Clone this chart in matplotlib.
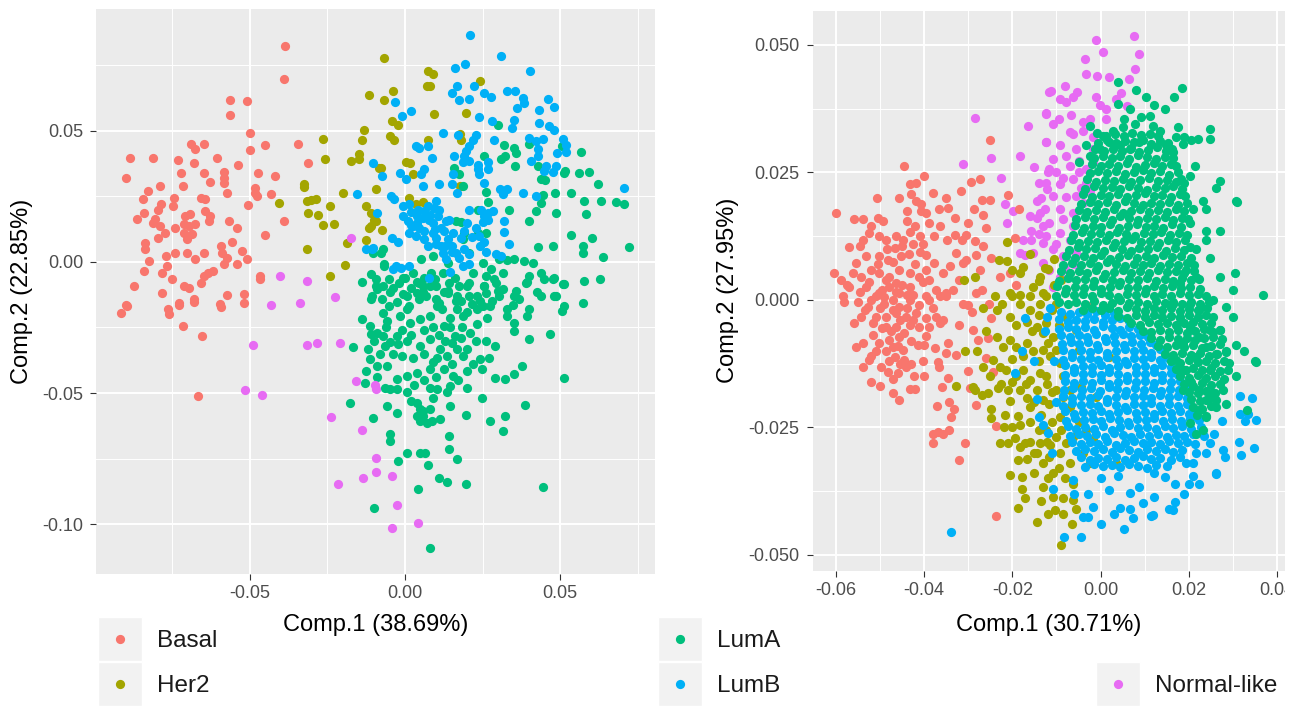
import numpy as np
import matplotlib
matplotlib.use("Agg")
import matplotlib.pyplot as plt
from matplotlib.patches import Rectangle

plt.rcParams['font.family'] = ['Liberation Sans', 'DejaVu Sans']

# PCA scores, stored in units of 1e-4
UNIT = 1e-4

group_names = ["Basal", "Her2", "LumA", "LumB", "Normal-like"]
group_colors = ["#F8766D", "#A3A500", "#00BF7D", "#00B0F6", "#E76BF3"]

left_xlabel = "Comp.1 (38.69%)"
left_ylabel = "Comp.2 (22.85%)"
right_xlabel = "Comp.1 (30.71%)"
right_ylabel = "Comp.2 (27.95%)"

left_xticks = [-0.05, 0.0, 0.05]
left_xticklabels = ["-0.05", "0.00", "0.05"]
left_yticks = [-0.10, -0.05, 0.0, 0.05]
left_yticklabels = ["-0.10", "-0.05", "0.00", "0.05"]
right_xticks = [-0.06, -0.04, -0.02, 0.0, 0.02, 0.04]
right_xticklabels = ["-0.06", "-0.04", "-0.02", "0.00", "0.02", "0.04"]
right_yticks = [-0.05, -0.025, 0.0, 0.025, 0.05]
right_yticklabels = ["-0.050", "-0.025", "0.000", "0.025", "0.050"]

# ---------------- left panel ----------------
basal_l = [(-385,824),(-390,700),(-565,618),(-510,613),(-565,562),(-500,494),(-500,426),(-450,445),(-344,450),
    (-690,450),(-675,430),(-646,450),(-885,396),(-810,396),(-898,320),(-730,390),(-680,377),(-605,396),(-538,370),
    (-720,338),(-648,338),(-584,343),(-584,320),(-584,300),(-627,305),(-474,338),(-420,328),(-312,377),(-790,290),
    (-716,290),(-573,265),(-828,270),(-844,240),(-745,243),(-656,243),(-643,240),(-484,284),(-482,265),(-478,250),
    (-430,258),(-506,216),(-785,220),(-794,200),(-748,214),(-842,188),(-863,163),(-804,163),(-788,137),(-772,112),
    (-794,93),(-810,150),(-740,130),(-708,176),(-691,182),(-712,144),(-697,137),(-675,144),(-712,112),(-685,106),
    (-702,87),(-643,195),(-627,176),(-632,156),(-568,156),(-540,131),(-390,158),(-450,102),(-836,71),(-836,48),
    (-740,36),(-770,23),(-702,36),(-675,10),(-648,36),(-594,61),(-588,36),(-573,17),(-557,76),(-525,42),(-509,10),
    (-541,-9),(-584,-9),(-823,4),(-842,-34),(-783,-41),(-751,-66),(-767,-15),(-646,-53),(-635,-41),(-657,-79),
    (-619,-34),(-468,-53),(-466,-66),(-874,-92),(-783,-117),(-713,-92),(-696,-98),(-680,-142),(-573,-127),
    (-517,-123),(-520,-158),(-899,-165),(-729,-158),(-595,-162),(-914,-195),(-896,-168),(-760,-200),(-763,-180),
    (-714,-245),(-653,-282),(-665,-512),(-728,-164),(-680,-154),(-593,-170)]

her2_l = [(-116,637),(-68,780),(-68,620),(-132,503),(-140,464),(-263,470),(-259,394),(-148,413),(-148,394),
    (-175,385),(-78,357),(-326,299),(-326,286),(-95,277),(-201,265),(-317,233),(-304,237),(-288,239),(-242,214),
    (-406,226),(-312,186),(-280,178),(-263,140),(-229,146),(-127,214),(-111,186),(-100,160),(-116,131),(-74,122),
    (-127,84),(-186,71),(-317,48),(-194,-11),(-242,-53),(73,730),(91,718),(70,670),(82,670),(-38,651),(241,689),
    (92,566),(198,569),(-42,537),(-24,524),(-47,480),(-34,464),(73,464),(177,489),(180,467),(3,381),(16,378),
    (-83,357),(25,334),(177,289),(14,245),(35,222),(57,228),(-95,156),(-109,137)]

luma_l = [(567,419),(561,338),(593,343),(620,296),(534,264),(577,232),(583,185),(631,232),(679,228),(706,220),
    (720,57),(534,102),(602,93),(572,61),(572,33),(636,20),(629,-66),(577,-72),(572,-155),(508,-85),(481,-60),
    (476,61),(427,58),(400,156),(422,194),(438,226),(445,254),(483,264),(486,188),(357,416),(352,435),(320,448),
    (323,404),(309,393),(355,365),(255,406),(298,524),(400,452),(427,365),(438,315),(452,312),(505,444),(516,346),
    (511,338),(261,266),(266,228),(175,334),(159,359),(186,289),(234,200),(180,152),(191,112),(234,112),(261,112),
    (336,200),(384,4),(411,-3),(438,-41),(400,-53),(304,10),(330,8),(352,10),(277,-28),(314,-41),(261,-53),
    (255,-91),(293,-79),(304,-129),(357,-110),(389,-79),(368,-142),(438,-129),(481,-129),(513,-168),(207,-129),
    (164,-148),(175,-91),(137,-117),(57,-91),(46,-142),(-8,-123),(-50,-66),(-72,-91),(-93,-66),(-109,-142),
    (-67,-9),(-8,-63),(25,-41),(46,-79),(84,-41),(121,-41),(143,-79),(100,-91),(207,-79),(218,-41),(250,-3),
    (207,36),(89,23),(164,156),(186,86),(137,-3),(52,10),(250,-168),(347,-165),(400,-178),(14,-168),(-50,-168),
    (111,-155),(68,-129),(-72,48),(-104,36),
    (-140,-78),(-91,-104),(-75,-142),(-48,-116),(-70,-193),(-27,-154),(5,-129),(38,-78),(59,-116),(97,-65),
    (124,-116),(167,-129),(199,-91),(231,-129),(253,-91),(285,-65),(317,-104),(350,-129),(392,-78),(425,-116),
    (446,-65),(478,-65),(511,-84),(487,-129),(505,-186),(392,-205),(328,-180),(274,-167),(231,-180),(167,-180),
    (102,-167),(5,-180),(-140,-218),(-113,-244),(-108,-275),(-59,-225),(-16,-205),(16,-231),(48,-218),(81,-205),
    (145,-212),(188,-205),(145,-250),(124,-244),(161,-282),(183,-250),(231,-237),(263,-212),(328,-205),(350,-231),
    (350,-263),(-167,-326),(-118,-333),(-113,-371),(-91,-396),(-124,-416),(-70,-282),(-65,-320),(-48,-307),
    (-27,-282),(-22,-314),(5,-301),(27,-365),(48,-320),(81,-295),(113,-333),(102,-365),(134,-358),(167,-333),
    (199,-333),(188,-358),(242,-371),(269,-365),(247,-409),(199,-416),(156,-435),(124,-409),(81,-409),(38,-422),
    (5,-435),(-27,-447),(-59,-396),(-27,-486),(5,-498),(-65,-479),(-48,-486),(81,-479),(102,-486),(145,-473),
    (134,-498),(247,-518),(290,-441),(323,-447),(350,-428),(376,-396),(398,-295),(468,-275),(511,-441),(387,-547),
    (323,-588),(317,-645),(274,-607),(197,-584),(145,-549),(113,-600),(38,-537),(48,-562),(59,-588),(70,-613),
    (38,-588),(48,-607),(86,-607),(59,-570),(81,-562),(-27,-575),(-59,-549),(-177,-539),(-102,-594),(-48,-658),
    (-48,-683),(143,-664),(143,-715),(167,-753),(5,-728),(48,-728),(65,-730),(75,-776),(-22,-760),(108,-823),
    (134,-840),(197,-846),(43,-865),(-100,-940),(81,-1091),(444,-859),
    (-110,-47),(-95,-92),(-106,-130),(-77,36),(-69,-15),
    (-40,-100),(-20,-80),(0,-60),(20,-100),(40,-120),(60,-60),(80,-90),(100,-140),(120,-180),(140,-110),
    (160,-60),(180,-150),(200,-190),(215,-160),(240,-150),(260,-120),(280,-150),(300,-110),(-10,-260),(20,-280),
    (60,-260),(90,-250),(110,-280),(130,-300),(150,-310),(180,-290),(210,-270),(230,-300),(260,-300),(290,-320),
    (-60,-250),(-90,-270),(-100,-300),(-80,-350),(-40,-350),(-10,-360),(60,-350),(90,-380),(150,-390),(220,-390),
    (60,-450),(30,-470),(100,-440),(170,-450),(-90,-440),(-130,-460),(20,-530),(90,-520),(200,-480)]

lumb_l = [(210,867),(309,787),(403,730),(162,742),(194,755),(167,673),(223,673),(151,645),(173,619),(205,623),
    (255,645),(277,629),(330,651),(355,651),(379,626),(384,607),(361,588),(462,623),(479,591),(432,581),(19,575),
    (-11,556),(-31,609),(239,552),(280,537),(350,543),(431,530),(463,520),(479,503),(344,511),(121,492),(170,486),
    (229,486),(218,467),(288,464),(400,473),(422,461),(443,470),(508,470),(518,448),(518,419),(491,416),(35,442),
    (73,442),(46,435),(207,444),(197,423),(191,404),(159,404),(87,397),(186,381),(207,385),(234,372),(266,381),
    (266,353),(234,353),(239,334),(255,302),(406,385),(427,404),(454,365),(487,365),(475,343),(448,346),(427,431),
    (-104,378),(-74,330),(-16,338),(3,317),(52,334),(62,353),(57,289),(108,296),(151,296),(153,334),(169,264),
    (306,277),(314,258),(330,277),(379,264),(422,251),(706,283),(-45,251),(-34,239),(-8,213),(14,220),(41,200),
    (73,213),(100,232),(94,207),(57,169),(76,162),(89,150),(105,175),(116,131),(132,156),(143,162),(-91,188),
    (-8,175),(9,156),(25,137),(46,131),(14,112),(35,99),(62,86),(89,112),(100,93),(116,61),(121,36),(137,86),
    (151,61),(165,36),(132,10),(153,112),(207,200),(245,200),(255,175),(266,188),(282,194),(250,152),(266,159),
    (320,156),(320,114),(336,67),(293,29),(309,23),(255,76),(-42,93),(-24,76),(-102,55),(-29,-15),(-13,-22),
    (14,-15),(78,-63),(186,-15),(207,-9),(239,99),(191,48),(175,16),(-154,258),(-127,48),(-105,51),(-38,-27),
    (145,-40),(20,190),(40,175),(60,195),(80,180),(110,200),(125,120),(95,125),(60,120),(40,150),(20,140),
    (100,70),(130,60),(75,60),(190,120),(215,95),(230,130),(200,150),(240,60),(180,90),(150,40),(205,30),(260,40)]

normal_l = [(-175,93),(-401,-53),(-317,-73),(-433,-165),(-337,-155),(-224,-132),(-489,-318),(-315,-318),
    (-283,-310),(-210,-310),(-516,-487),(-462,-509),(-158,-454),(-97,-470),(-94,-486),(-237,-591),(-140,-642),
    (-94,-747),(-134,-823),(-94,-802),(-41,-817),(-215,-846),(-25,-929),(-41,-1014),(43,-998)]

# ---------------- right panel ----------------
basal_r = [(-251,313),(-446,262),(-401,243),(-418,230),(-433,227),(-431,207),(-456,199),(-418,194),(-407,188),
    (-439,174),(-408,174),(-506,199),(-600,170),(-558,158),(-539,159),(-505,161),(-494,155),(-521,146),(-525,132),
    (-539,118),(-545,105),(-570,104),(-502,125),(-486,118),(-463,125),(-447,118),(-433,133),(-421,145),(-409,125),
    (-440,155),(-403,109),(-396,89),(-467,102),(-452,86),(-482,79),(-502,86),(-532,86),(-555,72),(-604,53),
    (-589,39),(-562,53),(-543,46),(-520,59),(-502,53),(-479,46),(-456,59),(-433,53),(-411,46),(-396,59),(-377,72),
    (-365,145),(-377,125),(-349,118),(-367,178),(-346,181),(-329,128),(-314,118),(-305,128),(-327,92),(-305,79),
    (-282,89),(-267,105),(-259,141),(-267,166),(-251,197),(-270,196),(-287,179),(-316,214),(-293,232),(-274,237),
    (-210,206),(-185,179),(-194,122),(-248,82),(-229,46),(-206,53),(-191,30),(-357,53),(-342,66),(-312,72),
    (-274,59),(-486,39),(-464,33),(-433,26),(-403,36),(-373,20),(-570,26),(-532,26),(-502,13),(-456,13),(-426,10),
    (-396,7),(-585,7),(-350,13),(-282,13),
    (-581,-3),(-551,-3),(-543,-33),(-528,-13),(-509,7),(-490,-7),(-471,0),(-456,-13),(-433,0),(-411,-10),(-388,0),
    (-365,7),(-350,7),(-509,-33),(-486,-33),(-464,-26),(-441,-33),(-418,-26),(-396,-36),(-373,-33),(-358,-39),
    (-486,-52),(-464,-52),(-433,-49),(-411,-52),(-388,-52),(-365,-46),(-555,-92),(-539,-85),(-517,-69),(-502,-85),
    (-479,-78),(-456,-72),(-471,-92),(-449,-98),(-486,-101),(-509,-101),(-467,-111),(-445,-118),(-524,-118),
    (-539,-132),(-498,-131),(-482,-141),(-460,-144),(-441,-132),(-422,-150),(-520,-160),(-501,-168),(-471,-183),
    (-456,-196),(-433,-175),(-414,-88),(-400,-88),(-403,-119),(-369,-121),(-367,-131),(-346,-85),(-350,-103),
    (-346,-152),(-327,-108),(-312,-7),(-292,-23),(-290,-59),(-278,-78),(-255,-75),(-259,-114),(-244,-141),
    (-248,-36),(-252,-7),(-297,-173),(-282,-206),(-343,-201),(-332,-213),(-372,-208),(-381,-262),(-358,-262),
    (-369,-258),(-381,-281),(-343,-255),(-307,-281),(-322,-313),(-238,-247),(-238,-424),(-28,-11),
    (-495,20),(-480,25),(-465,15),(-450,30),(-440,10),(-470,-20),(-455,-40),(-440,-15),(-425,-40),(-500,-15),
    (-515,-45),(-495,-55),(-475,-60),(-445,-65),(-430,-80),(-460,-90),(-480,-120),(-455,-125),(-470,-155),
    (-490,5),(-520,0),(-535,-20),(-560,-45),(-575,30),(-545,15),(-525,35),(-505,70),(-485,100),(-470,75),
    (-450,105),(-435,90),(-420,70),(-425,110),(-410,95),(-390,40),(-380,-15),(-395,-70),(-375,-95),(-400,-150),
    (-420,-175),(-520,-110),(-430,-125),(-360,-170),(-340,-230),(-300,-140),(-320,-50),(-335,20),(-320,40),
    (-300,-10),(-270,20),(-285,115),(-300,150),(-330,160),(-350,200),(-380,210),(-390,150),(-395,170)]

her2_r = [(-213,114),(-230,79),(-213,76),(-201,59),(-183,53),(-310,39),(-285,46),(-240,7),(-206,13),(-183,10),
    (-153,26),(-137,46),(-130,13),(-266,-16),(-236,-20),(-224,-7),(-202,7),(-183,-7),(-160,7),(-138,-7),(-206,-33),
    (-191,-49),(-168,-43),(-145,-52),(-130,-65),(-236,-72),(-221,-92),(-206,-78),(-191,-92),(-168,-85),(-153,-101),
    (-130,-98),(-308,-100),(-266,-132),(-244,-118),(-229,-131),(-214,-137),(-191,-150),(-176,-137),(-160,-157),
    (-138,-144),(-122,-164),(-327,-169),(-285,-177),(-270,-186),(-255,-183),(-233,-173),(-225,-164),(-210,-177),
    (-206,-199),(-183,-177),(-168,-193),(-145,-177),(-130,-196),(-248,-213),(-248,-232),(-217,-226),(-187,-228),
    (-183,-245),(-160,-239),(-229,-280),(-210,-281),(-195,-271),(-183,-288),(-172,-281),(-160,-278),(-137,-281),
    (-122,-278),(-187,-314),(-168,-311),(-145,-301),(-130,-320),(-206,-343),(-179,-347),(-179,-370),(-172,-389),
    (-187,-407),(-145,-435),(-130,-366),(-290,-170),
    (-123,-46),(-108,-72),(-100,-98),(-93,-124),(-123,-150),(-100,-177),(-116,-203),(-85,-190),(-70,-177),
    (-93,-229),(-123,-255),(-100,-268),(-78,-281),(-63,-268),(-32,-255),(-17,-275),(-116,-307),(-93,-301),
    (-70,-320),(-108,-340),(-63,-360),(-108,-386),(-85,-389),(-63,-392),(-104,-412),(-55,-409),(-89,-481),
    (-25,-320),(35,-320),(20,-111),(-10,-190),(-48,-98),(-55,-59),(-78,-33),(-123,7),(-100,-7),
    (-110,-20),(-95,-50),(-115,-110),(-140,-120),(-155,-60),(-175,-110),(-200,-115),(-160,-20),(-140,-30),
    (-120,-85),(-85,-150),(-110,-180),(-150,-200),(-135,-225),(-110,-240),(-90,-255),(-140,-255),(-160,-210),
    (-200,-250),(-220,-250),(-150,-300),(-115,-285),(-95,-330),(-80,-350),(-120,-350),(-150,-340),(-85,-420),
    (-120,-420),(-135,-395),(-65,-440),(-40,-300),(-50,-240),(-70,-210),(-60,-140),(-45,-170),(-260,-60),
    (-280,-100),(-250,-150),(-200,-160),(-170,-165),(-105,80),(-90,40),(-120,60),(-140,37),(-127,63),(-105,29),
    (-160,90),(-175,65)]

normal_r = [(-284,357),(-312,266),(-248,278),(-225,239),(-183,283),(-164,342),(-124,365),(-116,408),(-124,309),
    (-119,250),(-121,217),(-145,194),(-216,189),(-199,174),(-160,164),(-137,170),(-213,151),(-157,135),(-130,145),
    (-175,118),(-183,92),(-172,89),(-153,92),(-130,112),(-157,118),(-130,72),
    (-11,510),(75,517),(5,487),(86,482),(-36,472),(79,453),(-34,443),(20,438),(64,434),(-112,409),(-93,395),
    (-78,388),(-63,398),(-53,408),(-10,398),(-2,382),(13,375),(47,405),(-123,367),(-66,363),(-108,345),(-40,349),
    (-25,355),(13,355),(-63,326),(-40,332),(-17,319),(-123,309),(-93,303),(-55,296),(-17,296),(-108,276),(-78,283),
    (-48,273),(-116,257),(-70,263),(-32,257),(-17,270),(-123,230),(-93,227),(-63,237),(-32,230),(-108,204),
    (-78,201),(-55,204),(-25,214),(-127,178),(-93,178),(-63,171),(-40,191),(-116,151),(-85,158),(-63,145),
    (-123,125),(-93,132),(-70,118),(-108,99),(-85,86),(-55,92),(-116,59),(-93,46),(-108,26),
    (-140,230),(-150,260),(-135,200),(-100,110),(-80,60),(-60,70),(-140,130),(-145,160),(-100,250),(-85,240),
    (-50,250),(-45,220),(-70,330),(-95,355),(-80,420),(60,380),(35,395),(-8,440)]

lumb_r = [(315,-188),(315,-224),(334,-224),(353,-235),(258,-262),(313,-278),(319,-304),(277,-294),(281,-307),
    (262,-340),(224,-360),(190,-381),(168,-360),(168,-396),(164,-412),(122,-386),(115,-424),(96,-399),(66,-409),
    (43,-407),(20,-373),(-17,-405),(-29,-425),(-40,-425),(-29,-381),(66,-379),(88,-366),(145,-347),(122,-340),
    (194,-320),(209,-320),(217,-301),(247,-281),(-44,-464),(-82,-464),(-63,-353),(-108,-370),(-340,-455),
    (-172,-36),(-179,-100),(-194,-144),(-144,-195),(-139,-230),(-130,-245),(-122,-33),(-120,-260),(-110,-300),
    (-150,-120),(-60,-380),(0,-350),(40,-345),(210,-345),(240,-300),(-115,-15),(-125,-60),(-105,-120),(-100,-200),
    (52,-450),(119,-421),(73,-427),(155,-410),(201,-361),(261,-341),(348,-290),(327,-237),(344,-192),(275,-237),
    (0,-440),(30,-420),
    (-90,-23),(-70,-28),(-50,-24),(-30,-27),(-10,-22),(10,-29),(30,-25),
    (-95,-38),(-75,-43),(-55,-39),(-35,-42),(-15,-37),(5,-44),(25,-40),(45,-36),(65,-41),
    (-95,-57),(-75,-52),(-55,-56),(-35,-53),(-15,-58),(5,-51),(25,-55),(45,-59),(65,-53),(85,-56),
    (-90,-68),(-70,-73),(-50,-69),(-30,-72),(-10,-67),(10,-74),(30,-70),(50,-66),(70,-71),(90,-69),(108,-73),
    (-88,-87),(-68,-82),(-48,-86),(-28,-83),(-8,-88),(12,-81),(32,-85),(52,-89),(72,-83),(92,-86),(112,-82),(125,-88),
    (-85,-98),(-65,-103),(-45,-99),(-25,-102),(-5,-97),(15,-104),(35,-100),(55,-96),(75,-101),(95,-99),(115,-103),
    (135,-97),
    (-85,-117),(-65,-112),(-45,-116),(-25,-113),(-5,-118),(15,-111),(35,-115),(55,-119),(75,-113),(95,-116),
    (115,-112),(135,-118),(152,-114),
    (-80,-128),(-60,-133),(-40,-129),(-20,-132),(0,-127),(20,-134),(40,-130),(60,-126),(80,-131),(100,-129),
    (120,-133),(140,-127),(160,-131),
    (-80,-147),(-60,-142),(-40,-146),(-20,-143),(0,-148),(20,-141),(40,-145),(60,-149),(80,-143),(100,-146),
    (120,-142),(140,-148),(160,-144),(175,-147),
    (-80,-158),(-60,-163),(-40,-159),(-20,-162),(0,-157),(20,-164),(40,-160),(60,-156),(80,-161),(100,-159),
    (120,-163),(140,-157),(160,-161),(180,-158),
    (-82,-177),(-62,-172),(-42,-176),(-22,-173),(-2,-178),(18,-171),(38,-175),(58,-179),(78,-173),(98,-176),
    (118,-172),(138,-178),(158,-174),(178,-177),(195,-173),
    (-85,-188),(-65,-193),(-45,-189),(-25,-192),(-5,-187),(15,-194),(35,-190),(55,-186),(75,-191),(95,-189),
    (115,-193),(135,-187),(155,-191),(175,-188),(195,-192),
    (-85,-207),(-65,-202),(-45,-206),(-25,-203),(-5,-208),(15,-201),(35,-205),(55,-209),(75,-203),(95,-206),
    (115,-202),(135,-208),(155,-204),(175,-207),(195,-203),(205,-208),
    (-80,-218),(-60,-223),(-40,-219),(-20,-222),(0,-217),(20,-224),(40,-220),(60,-216),(80,-221),(100,-219),
    (120,-223),(140,-217),(160,-221),(180,-218),(200,-223),(215,-219),
    (-78,-237),(-58,-232),(-38,-236),(-18,-233),(2,-238),(22,-231),(42,-235),(62,-239),(82,-233),(102,-236),
    (122,-232),(142,-238),(162,-234),(182,-237),(202,-233),(222,-236),
    (-75,-248),(-55,-253),(-35,-249),(-15,-252),(5,-247),(25,-254),(45,-250),(65,-246),(85,-251),(105,-249),
    (125,-253),(145,-247),(165,-251),(185,-248),(205,-253),(228,-249),
    (-70,-267),(-50,-262),(-30,-266),(-10,-263),(10,-268),(30,-261),(50,-265),(70,-269),(90,-263),(110,-266),
    (130,-262),(150,-268),(170,-264),(190,-267),(210,-263),(235,-266),
    (-65,-278),(-45,-283),(-25,-279),(-5,-282),(15,-277),(35,-284),(55,-280),(75,-276),(95,-281),(115,-279),
    (135,-283),(155,-277),(175,-281),(195,-278),(215,-283),
    (-55,-297),(-35,-292),(-15,-296),(5,-293),(25,-298),(45,-291),(65,-295),(85,-299),(105,-293),(125,-296),
    (145,-292),(165,-298),(185,-294),
    (-45,-308),(-25,-313),(-5,-309),(15,-312),(35,-307),(55,-314),(75,-310),(95,-306),(115,-311),(135,-309),
    (160,-313),(180,-307),
    (-35,-327),(-15,-322),(5,-326),(25,-323),(45,-328),(65,-321),(85,-325),(105,-329),(125,-323),(150,-326)]

luma_r = [(39,428),(81,411),(103,398),(122,382),(146,375),(166,398),(184,415),(39,385),(66,375),(92,359),(111,361),
    (54,355),(-25,342),(5,322),(28,332),(51,339),(77,345),(119,342),(134,332),(175,339),(172,319),(190,319),
    (204,313),(221,316),(247,316),(187,306),(164,290),(149,303),(88,309),(66,296),(43,303),(20,309),(-2,296),
    (-32,303),(-25,283),(-48,270),(213,263),(202,243),(190,230),(270,234),(262,220),(307,194),(232,194),(209,178),
    (239,178),(202,151),(239,135),(270,135),(239,118),(217,99),(247,82),(270,46),(304,53),(300,20),(368,10),
    (217,46),(194,59),(179,33),(247,335),(309,193),
    (300,-33),(285,-13),(255,0),(270,-59),(247,-59),(307,-88),(326,-101),(349,-119),(285,-101),(262,-105),
    (292,-124),(289,-137),(307,-150),(247,-137),(277,-177),(285,-203),(262,-209),(239,-196),(224,-216),(239,-229),
    (202,-242),(217,-262),(232,-255),(255,-183),(224,-177),(205,-160),(187,-177),(194,-137),(217,-111),(239,-92),
    (224,-72),(202,-52),(187,-85),(172,-118),(179,-33),(164,-7),(202,-7),(224,-20),(352,-121),(331,-216),
    (-8,327),(12,322),(32,326),(52,321),(72,328),(92,323),(112,326),(130,321),
    (-5,308),(15,313),(35,307),(55,312),(75,309),(95,314),(115,306),(135,311),(152,308),
    (-12,297),(8,292),(28,296),(48,293),(68,298),(88,291),(108,295),(128,299),(148,292),(162,296),
    (-15,278),(5,283),(25,279),(45,282),(65,277),(85,284),(105,280),(125,276),(145,281),(165,279),
    (-20,267),(0,262),(20,266),(40,263),(60,268),(80,261),(100,265),(120,269),(140,263),(160,266),(172,262),
    (-25,248),(-5,253),(15,249),(35,252),(55,247),(75,251),(95,254),(115,248),(135,252),(155,246),(175,250),
    (-30,237),(-10,232),(10,236),(30,233),(50,238),(70,231),(90,235),(110,239),(130,233),(150,236),(170,232),(182,238),
    (-35,218),(-15,223),(5,219),(25,222),(45,217),(65,224),(85,220),(105,216),(125,221),(145,219),(165,223),(185,217),
    (-40,207),(-20,202),(0,206),(20,203),(40,208),(60,201),(80,205),(100,209),(120,203),(140,206),(160,202),
    (180,208),(192,204),
    (-45,188),(-25,193),(-5,189),(15,192),(35,187),(55,194),(75,190),(95,186),(115,191),(135,189),(155,193),
    (175,187),(195,191),
    (-50,177),(-30,172),(-10,176),(10,173),(30,178),(50,171),(70,175),(90,179),(110,173),(130,176),(150,172),
    (170,178),(190,174),
    (-55,158),(-35,163),(-15,159),(5,162),(25,157),(45,164),(65,160),(85,156),(105,161),(125,159),(145,163),
    (165,157),(185,161),(198,158),
    (-58,147),(-38,142),(-18,146),(2,143),(22,148),(42,141),(62,145),(82,149),(102,143),(122,146),(142,142),
    (162,148),(182,144),
    (-62,128),(-42,133),(-22,129),(-2,132),(18,127),(38,134),(58,130),(78,126),(98,131),(118,129),(138,133),
    (158,127),(178,131),(196,128),
    (-68,117),(-48,112),(-28,116),(-8,113),(12,118),(32,111),(52,115),(72,119),(92,113),(112,116),(132,112),
    (152,118),(172,114),(192,117),
    (-72,98),(-52,103),(-32,99),(-12,102),(8,97),(28,104),(48,100),(68,96),(88,101),(108,99),(128,103),(148,97),
    (168,101),(188,98),(202,103),
    (-78,87),(-58,82),(-38,86),(-18,83),(2,88),(22,81),(42,85),(62,89),(82,83),(102,86),(122,82),(142,88),
    (162,84),(182,87),(204,83),
    (-85,68),(-65,73),(-45,69),(-25,72),(-5,67),(15,74),(35,70),(55,66),(75,71),(95,69),(115,73),(135,67),
    (155,71),(175,68),(195,73),(212,69),
    (-90,57),(-70,52),(-50,56),(-30,53),(-10,58),(10,51),(30,55),(50,59),(70,53),(90,56),(110,52),(130,58),
    (150,54),(170,57),(190,53),(212,56),
    (-95,38),(-75,43),(-55,39),(-35,42),(-15,37),(5,44),(25,40),(45,36),(65,41),(85,39),(105,43),(125,37),
    (145,41),(165,38),(185,43),(205,39),(222,42),
    (-98,27),(-78,22),(-58,26),(-38,23),(-18,28),(2,21),(22,25),(42,29),(62,23),(82,26),(102,22),(122,28),
    (142,24),(162,27),(182,23),(202,26),(225,22),
    (-100,8),(-80,13),(-60,9),(-40,12),(-20,7),(0,14),(20,10),(40,6),(60,11),(80,9),(100,13),(120,7),(140,11),
    (160,8),(180,13),(200,9),(220,12),(238,8),
    (-95,-3),(-75,-8),(-55,-4),(-35,-7),(-15,-2),(5,-9),(25,-5),(45,-1),(65,-6),(85,-4),(105,-8),(125,-2),
    (145,-6),(165,-3),(185,-8),(205,-4),(225,-7),(245,-3),
    (-40,-20),(-20,-15),(0,-19),(20,-16),(40,-21),(60,-14),(80,-18),(100,-22),(120,-16),(140,-19),(160,-15),
    (180,-21),(200,-17),(220,-20),(242,-16),
    (40,-32),(60,-35),(80,-30),(100,-34),(120,-29),(140,-33),(160,-31),(180,-35),(200,-30),(220,-33),(240,-29),
    (255,-34),(70,-46),(90,-49),(110,-44),(130,-48),(150,-45),(170,-50),(190,-46),(210,-43),(230,-48),(250,-45),
    (95,-60),(115,-63),(135,-58),(155,-62),(175,-59),(195,-64),(215,-60),(235,-57),(255,-62),(270,-59),
    (115,-75),(135,-78),(155,-73),(175,-77),(195,-74),(215,-79),(235,-75),(255,-72),(275,-77),
    (130,-90),(150,-93),(170,-88),(190,-92),(210,-89),(230,-94),(250,-90),(270,-87),
    (145,-105),(165,-108),(185,-103),(205,-107),(225,-104),(245,-109),(265,-105),(285,-102),
    (160,-120),(180,-123),(200,-118),(220,-122),(240,-119),(260,-124),(280,-120),
    (170,-135),(190,-138),(210,-133),(230,-137),(250,-134),(270,-139),
    (180,-150),(200,-153),(220,-148),(240,-152),(260,-149),(280,-154),
    (190,-165),(210,-168),(230,-163),(250,-167),(270,-164),
    (200,-180),(220,-183),(240,-178),(260,-182),(205,-195),(225,-198),(245,-193),(262,-197),
    (210,-210),(230,-213),(250,-208),(218,-225),(240,-228)]

left_sets = {"Basal": basal_l, "Her2": her2_l, "LumA": luma_l, "LumB": lumb_l, "Normal-like": normal_l}
right_sets = {"Basal": basal_r, "Her2": her2_r, "LumA": luma_r, "LumB": lumb_r, "Normal-like": normal_r}
left_order = ["Basal", "Her2", "LumA", "LumB", "Normal-like"]
right_order = ["Normal-like", "Basal", "Her2", "LumB", "LumA"]

POINT_SIZE = 44


def to_xy(pairs):
    a = np.array(pairs, dtype=float) * UNIT
    return a[:, 0], a[:, 1]


W, H = 1297, 706


def px_box(x0, x1, y0, y1):
    # pixel box (top-left origin) -> figure fraction
    return [x0 / W, 1 - y1 / H, (x1 - x0) / W, (y1 - y0) / H]


def style_panel(ax, xlim, ylim, xt, xtl, yt, ytl, xminor, yminor):
    ax.set_facecolor("#EBEBEB")
    for s in ax.spines.values():
        s.set_visible(False)
    ax.set_xlim(xlim)
    ax.set_ylim(ylim)
    ax.set_xticks(xt)
    ax.set_xticklabels(xtl)
    ax.set_yticks(yt)
    ax.set_yticklabels(ytl)
    ax.set_xticks(xminor, minor=True)
    ax.set_yticks(yminor, minor=True)
    ax.grid(which="major", color="white", lw=1.4)
    ax.grid(which="minor", color="white", lw=0.7)
    ax.set_axisbelow(True)
    ax.tick_params(which="major", length=4.3, width=0.8, color="#333333",
                   labelsize=13, labelcolor="#4D4D4D")
    ax.tick_params(axis="x", pad=4)
    ax.tick_params(axis="y", pad=5)
    ax.tick_params(which="minor", length=0)


fig = plt.figure(figsize=(12.97, 7.06), dpi=100)

ax1 = fig.add_axes(px_box(96, 655, 9.4, 573.8))
style_panel(ax1, (-0.0995, 0.0805), (-0.119, 0.0964),
            left_xticks, left_xticklabels, left_yticks, left_yticklabels,
            [-0.075, -0.025, 0.025, 0.075], [-0.075, -0.025, 0.025, 0.075])
for name in left_order:
    x, y = to_xy(left_sets[name])
    ax1.scatter(x, y, s=POINT_SIZE, color=group_colors[group_names.index(name)], linewidths=0)
ax1.set_xlabel(left_xlabel, fontsize=17)
ax1.xaxis.label.set_va("center")
ax1.xaxis.set_label_coords(0.5, -0.091)
ax1.set_ylabel(left_ylabel, fontsize=17)
ax1.yaxis.label.set_va("center")
ax1.yaxis.set_label_coords(-0.132, 0.5)

ax2 = fig.add_axes(px_box(812.6, 1285.4, 10.8, 570.8))
style_panel(ax2, (-0.0653, 0.0419), (-0.0531, 0.0567),
            right_xticks, right_xticklabels, right_yticks, right_yticklabels,
            [-0.05, -0.03, -0.01, 0.01, 0.03], [-0.0375, -0.0125, 0.0125, 0.0375])
for name in right_order:
    x, y = to_xy(right_sets[name])
    ax2.scatter(x, y, s=POINT_SIZE, color=group_colors[group_names.index(name)], linewidths=0)
ax2.set_xlabel(right_xlabel, fontsize=17)
ax2.xaxis.label.set_va("center")
ax2.xaxis.set_label_coords(0.5, -0.097)
ax2.set_ylabel(right_ylabel, fontsize=17)
ax2.yaxis.label.set_va("center")
ax2.yaxis.set_label_coords(-0.178, 0.5)

# legend pieces sit in an overlay drawn in pixel units
lax = fig.add_axes([0, 0, 1, 1])
lax.set_xlim(0, W)
lax.set_ylim(H, 0)
lax.axis("off")
legend_slots = [("Basal", 98, 617), ("Her2", 98, 662), ("LumA", 658, 617),
                ("LumB", 658, 662), ("Normal-like", 1096, 662)]
key = 44
for name, kx, ky in legend_slots:
    lax.add_patch(Rectangle((kx, ky), key, key, facecolor="#F2F2F2", edgecolor="white", lw=1))
    lax.scatter([kx + key / 2], [ky + key / 2], s=POINT_SIZE,
                color=group_colors[group_names.index(name)], linewidths=0)
    lax.text(kx + 59, ky + 24, name, fontsize=17.5, va="center", ha="left", color="#1A1A1A")

# the source image is cut off right at the edge of the second panel
lax.add_patch(Rectangle((1284.5, 0), 13, H, facecolor="white", edgecolor="none", zorder=10))

fig.savefig("out.png", dpi=100)
